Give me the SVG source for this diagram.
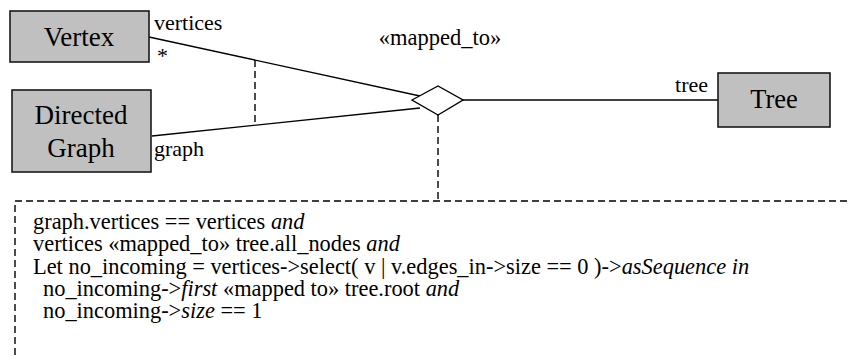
<svg xmlns="http://www.w3.org/2000/svg" width="850" height="356" viewBox="0 0 850 356">
<style>
.box{fill:#c0c0c0;stroke:#1a1a1a;stroke-width:1.6}
.ln{stroke:#000;stroke-width:1.4;fill:none}
.dash{stroke:#000;stroke-width:1.4;fill:none;stroke-dasharray:7,4}
</style>
<rect width="850" height="356" fill="#fff"/>
<g id="connectors">
<line class="ln" x1="149" y1="37" x2="420" y2="96"/>
<line class="ln" x1="152" y1="136" x2="420" y2="108"/>
<line class="ln" x1="463" y1="100" x2="718" y2="100"/>
<line class="dash" x1="255" y1="60" x2="255" y2="125"/>
<line class="dash" x1="438" y1="115" x2="438" y2="201"/>
<text font-family="Times New Roman, serif" font-size="22" x="154" y="30">vertices</text>
<text font-family="Times New Roman, serif" font-size="22" x="157" y="63">*</text>
<text font-family="Times New Roman, serif" font-size="22" x="154" y="156">graph</text>
<text font-family="Times New Roman, serif" font-size="22" x="708" y="92" text-anchor="end">tree</text>
</g>
<g id="vertex">
<rect class="box" x="10" y="11" width="139" height="51"/>
<text font-family="Times New Roman, serif" font-size="27" x="79" y="46" text-anchor="middle">Vertex</text>
</g>
<g id="directed-graph">
<rect class="box" x="12" y="90" width="139" height="82"/>
<text font-family="Times New Roman, serif" font-size="27" x="81" y="124" text-anchor="middle">Directed</text>
<text font-family="Times New Roman, serif" font-size="27" x="81" y="157" text-anchor="middle">Graph</text>
</g>
<g id="tree">
<rect class="box" x="718" y="73" width="112" height="54"/>
<text font-family="Times New Roman, serif" font-size="26.5" x="774" y="108" text-anchor="middle">Tree</text>
</g>
<g id="mapped-to">
<polygon points="412,100 438,86 463,100 438,115" fill="#fff" stroke="#000" stroke-width="1.4"/>
<text font-family="Times New Roman, serif" font-size="22.5" x="440" y="45" text-anchor="middle">«mapped_to»</text>
</g>
<g id="constraint-note">
<path class="dash" d="M847,201 H15 V360"/>
<text font-family="Times New Roman, serif" font-size="22.4" x="33" y="228.5">graph.vertices == vertices <tspan font-style="italic">and</tspan></text>
<text font-family="Times New Roman, serif" font-size="22.4" x="33" y="251">vertices «mapped_to» tree.all_nodes <tspan font-style="italic">and</tspan></text>
<text font-family="Times New Roman, serif" font-size="22.4" x="33" y="273.5">Let no_incoming = vertices-&gt;select( v | v.edges_in-&gt;size == 0 )-&gt;<tspan font-style="italic">asSequence in</tspan></text>
<text font-family="Times New Roman, serif" font-size="22.4" x="43" y="295.5">no_incoming-&gt;<tspan font-style="italic">first</tspan> «mapped to» tree.root <tspan font-style="italic">and</tspan></text>
<text font-family="Times New Roman, serif" font-size="22.4" x="43" y="317.5">no_incoming-&gt;<tspan font-style="italic">size</tspan> == 1</text>
</g>
</svg>
